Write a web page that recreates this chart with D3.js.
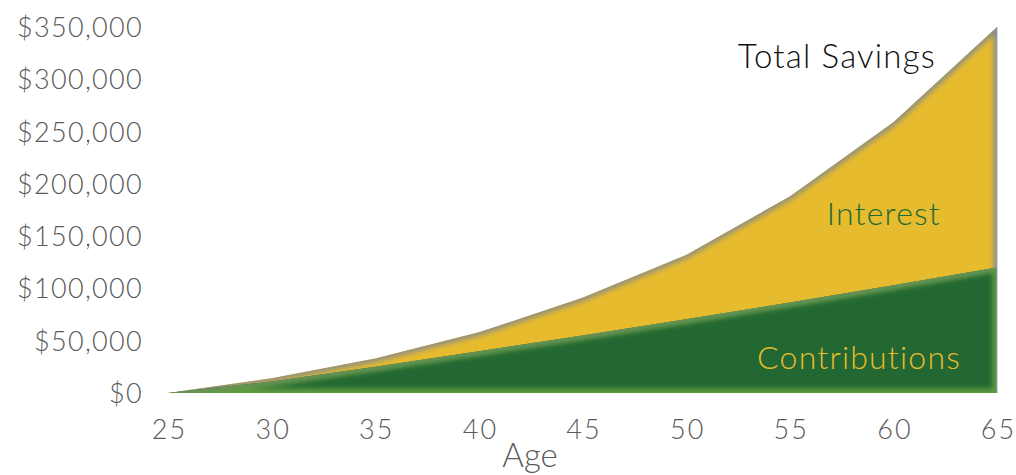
<!DOCTYPE html>
<html><head><meta charset="utf-8">
<script src="https://cdn.jsdelivr.net/npm/d3@7"></script>
<style>
body{margin:0;background:#fff;}
svg text{font-family:Lato,"Open Sans",sans-serif;font-weight:300;}
</style></head>
<body><svg id="c" width="1016" height="475"></svg>
<script>
const ages = [25,30,35,40,45,50,55,60,65];
const contributions = [0,11000,25000,40000,55000,70500,86500,103000,120000];
const totalSavings = [0,14000,33000,58000,91000,132000,188000,259000,350000];
const yTicks = [0,50000,100000,150000,200000,250000,300000,350000];
const xTicks = [25,30,35,40,45,50,55,60,65];

const svg = d3.select("#c");
const x = d3.scaleLinear().domain([25,65]).range([168,997]);
const y = d3.scaleLinear().domain([0,350000]).range([393,27]);

const data = ages.map((a,i)=>({a, c:contributions[i], t:totalSavings[i]}));
const defs = svg.append("defs");
const f = defs.append("filter").attr("id","blur").attr("x","-10%").attr("y","-10%").attr("width","120%").attr("height","120%");
f.append("feGaussianBlur").attr("stdDeviation",2.5);

const areaTotal = d3.area().x(d=>x(d.a)).y0(y(0)).y1(d=>y(d.t));
const areaContrib = d3.area().x(d=>x(d.a)).y0(y(0)).y1(d=>y(d.c));

defs.append("clipPath").attr("id","clipT").append("path").attr("d",areaTotal(data));
defs.append("clipPath").attr("id","clipC").append("path").attr("d",areaContrib(data));

// interest (total) area
svg.append("path").attr("d",areaTotal(data)).attr("fill","#e6bb2e");
svg.append("g").attr("clip-path","url(#clipT)")
  .append("path").attr("d",areaTotal(data)).attr("fill","none")
  .attr("stroke","#8e8f84").attr("stroke-width",7).attr("filter","url(#blur)");
// contributions area
svg.append("path").attr("d",areaContrib(data)).attr("fill","#236833");
const gc = svg.append("g").attr("clip-path","url(#clipC)");
gc.append("path").attr("d",areaContrib(data)).attr("fill","none")
  .attr("stroke","#5f9a3c").attr("stroke-width",9).attr("filter","url(#blur)");
gc.append("path").attr("d",d3.line().x(d=>x(d.a)).y(d=>y(d.c))(data)).attr("fill","none")
  .attr("stroke","#6f8a78").attr("stroke-width",3).attr("filter","url(#blur)");
// thin right edge
svg.append("line").attr("x1",x(65)).attr("x2",x(65)).attr("y1",y(350000)).attr("y2",y(0))
  .attr("stroke","#8aa0c8").attr("stroke-width",1.2).attr("opacity",0.7);

// y axis
const yAxis = d3.axisLeft(y).tickValues(yTicks).tickSize(0).tickPadding(0)
  .tickFormat(d=>"$"+d3.format(",")(d));
const ya = svg.append("g").attr("transform","translate(143,0)").call(yAxis);
ya.select(".domain").remove();
ya.selectAll("text").attr("font-size",27).attr("fill","#5a5a5a").attr("font-family","Lato,sans-serif")
  .attr("font-weight",300).attr("letter-spacing","1.3px").attr("dy","0.35em");

// x axis
const xAxis = d3.axisBottom(x).tickValues(xTicks).tickSize(0).tickPadding(0);
const xa = svg.append("g").attr("transform","translate(0,420)").call(xAxis);
xa.select(".domain").remove();
xa.selectAll("text").attr("font-size",27).attr("fill","#5a5a5a").attr("font-family","Lato,sans-serif")
  .attr("font-weight",300).attr("letter-spacing","2px").attr("dx","1px").attr("dy","0.72em");

svg.append("text").attr("x",530).attr("y",467).attr("text-anchor","middle")
  .attr("font-size",33).attr("fill","#5a5a5a").text("Age");

svg.append("text").attr("x",936).attr("y",68).attr("text-anchor","end")
  .attr("font-size",33).attr("letter-spacing","1.2px").attr("fill","#111").text("Total Savings");
svg.append("text").attr("x",941).attr("y",225).attr("text-anchor","end")
  .attr("font-size",32).attr("letter-spacing","1.2px").attr("fill","#1f6a34").text("Interest");
svg.append("text").attr("x",961).attr("y",369).attr("text-anchor","end")
  .attr("font-size",32).attr("letter-spacing","1.2px").attr("fill","#e8bc2c").text("Contributions");
</script></body></html>
